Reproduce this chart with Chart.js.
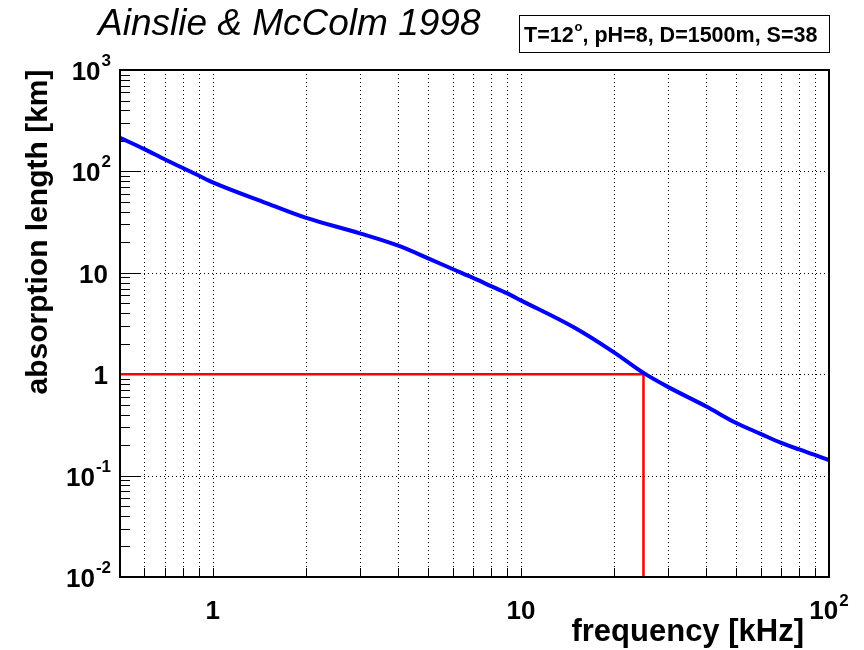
<!DOCTYPE html>
<html><head><meta charset="utf-8">
<script src="https://cdn.jsdelivr.net/npm/chart.js@4.4.1/dist/chart.umd.min.js"></script>
<style>html,body{margin:0;padding:0;background:#fff;}#wrap{width:864px;height:650px;position:relative;}</style>
</head><body><div id="wrap"><canvas id="c" width="864" height="650"></canvas></div>
<script>
// ---- data ----
const freqKHz = [0.5,0.6,0.7,0.8,0.9,1,1.5,2,3,4,5,6,7,8,9,10,15,20,25,30,40,50,60,70,80,90,100];
const absorptionKm = [215,166,131,108,91,78,48.5,35,24.5,18.5,13.9,10.9,8.9,7.4,6.3,5.35,2.85,1.65,1.03,0.75,0.48,0.33,0.258,0.21,0.181,0.16,0.142];
const refFreq = [0.5,25,25];
const refLen = [1,1,0.01];
const xGridValues = [0.6,0.7,0.8,0.9,1,2,3,4,5,6,7,8,9,10,20,30,40,50,60,70,80,90];
const yGridValues = [100,10,1,0.1];
const yMinorValues = [0.02,0.03,0.04,0.05,0.06,0.07,0.08,0.09,0.2,0.3,0.4,0.5,0.6,0.7,0.8,0.9,2,3,4,5,6,7,8,9,20,30,40,50,60,70,80,90,200,300,400,500,600,700,800,900];
const xLabelValues = [1,10,100];
const xLabelBases = ['1','10','10'];
const xLabelExps = ['','','2'];
const yLabelValues = [1000,100,10,1,0.1,0.01];
const yLabelBases = ['10','10','10','1','10','10'];
const yLabelExps = ['3','2','','','-1','-2'];
const titleText = 'Ainslie & McColm 1998';
const boxText = ['T=12','o',', pH=8, D=1500m, S=38'];
const xTitle = 'frequency [kHz]';
const yTitle = 'absorption length [km]';

const FONT = '"Liberation Sans", Arial, Helvetica, sans-serif';

const deco = {
  id: 'deco',
  beforeDatasetsDraw(chart) {
    const {ctx, chartArea: a, scales: {x, y}} = chart;
    ctx.save();
    ctx.strokeStyle = '#000';
    ctx.lineWidth = 1;
    ctx.setLineDash([1,3]);
    xGridValues.forEach(v => {
      const px = Math.round(x.getPixelForValue(v)) + 0.5;
      ctx.beginPath(); ctx.moveTo(px, a.top); ctx.lineTo(px, a.bottom); ctx.stroke();
    });
    yGridValues.forEach(v => {
      const py = Math.round(y.getPixelForValue(v)) + 0.5;
      ctx.beginPath(); ctx.moveTo(a.left, py); ctx.lineTo(a.right, py); ctx.stroke();
    });
    ctx.setLineDash([]);
    xGridValues.forEach(v => {
      const px = Math.round(x.getPixelForValue(v)) + 0.5;
      ctx.beginPath(); ctx.moveTo(px, a.bottom); ctx.lineTo(px, a.bottom - 9); ctx.stroke();
    });
    yGridValues.forEach(v => {
      const py = Math.round(y.getPixelForValue(v)) + 0.5;
      ctx.beginPath(); ctx.moveTo(a.left, py); ctx.lineTo(a.left + 20, py); ctx.stroke();
    });
    yMinorValues.forEach(v => {
      const py = Math.round(y.getPixelForValue(v)) + 0.5;
      ctx.beginPath(); ctx.moveTo(a.left, py); ctx.lineTo(a.left + 10, py); ctx.stroke();
    });
    ctx.restore();
  },
  afterDatasetsDraw(chart) {
    const {ctx, chartArea: a, scales: {x, y}} = chart;
    ctx.save();
    ctx.strokeStyle = '#000';
    ctx.lineWidth = 2;
    ctx.strokeRect(a.left, a.top, a.right - a.left, a.bottom - a.top);
    ctx.fillStyle = '#000';
    ctx.textBaseline = 'alphabetic';
    ctx.textAlign = 'left';
    // x labels: whole label (base + exponent) centred on the tick
    xLabelValues.forEach((v, i) => {
      const px = x.getPixelForValue(v);
      ctx.font = 'bold 26px ' + FONT;
      const w = ctx.measureText(xLabelBases[i]).width;
      let ew = 0;
      if (xLabelExps[i]) {
        ctx.font = 'bold 17px ' + FONT;
        ew = ctx.measureText(xLabelExps[i]).width + 1;
      }
      const x0 = px - (w + ew) / 2;
      ctx.font = 'bold 26px ' + FONT;
      ctx.fillText(xLabelBases[i], x0, a.bottom + 42);
      if (xLabelExps[i]) {
        ctx.font = 'bold 17px ' + FONT;
        ctx.fillText(xLabelExps[i], x0 + w + 1, a.bottom + 29);
      }
    });
    // y labels
    ctx.textAlign = 'right';
    yLabelValues.forEach((v, i) => {
      const py = y.getPixelForValue(v);
      let right;
      if (yLabelExps[i]) {
        right = 111;
        ctx.font = 'bold 17px ' + FONT;
        const ew = ctx.measureText(yLabelExps[i]).width;
        ctx.fillText(yLabelExps[i], right, py - 4);
        right -= ew + 1;
      } else {
        right = 108;
      }
      ctx.font = 'bold 26px ' + FONT;
      ctx.fillText(yLabelBases[i], right, py + 10);
    });
    // axis titles
    ctx.font = 'bold 31px ' + FONT;
    ctx.textAlign = 'right';
    ctx.fillText(xTitle, 804, 641);
    ctx.font = 'bold 30px ' + FONT;
    ctx.save();
    ctx.translate(47, 232);
    ctx.rotate(-Math.PI / 2);
    ctx.textAlign = 'center';
    ctx.fillText(yTitle, 0, 0);
    ctx.restore();
    // title
    ctx.font = 'italic 37px ' + FONT;
    ctx.textAlign = 'left';
    ctx.fillText(titleText, 98, 35);
    // parameter box
    ctx.lineWidth = 1;
    ctx.strokeRect(519.5, 15.5, 310, 37);
    ctx.font = 'bold 21.5px ' + FONT;
    let tx = 524;
    ctx.fillText(boxText[0], tx, 42); tx += ctx.measureText(boxText[0]).width + 1;
    ctx.font = 'bold 13px ' + FONT;
    ctx.fillText(boxText[1], tx, 31); tx += ctx.measureText(boxText[1]).width;
    ctx.font = 'bold 21.5px ' + FONT;
    ctx.fillText(boxText[2], tx, 42);
    ctx.restore();
  }
};

new Chart(document.getElementById('c'), {
  type: 'line',
  data: {
    datasets: [
      {
        data: freqKHz.map((f, i) => ({x: f, y: absorptionKm[i]})),
        borderColor: '#0000ff', borderWidth: 4, pointRadius: 0,
        cubicInterpolationMode: 'monotone', fill: false
      },
      {
        data: refFreq.map((f, i) => ({x: f, y: refLen[i]})),
        borderColor: '#ff0000', borderWidth: 2.5, pointRadius: 0, tension: 0, fill: false
      }
    ]
  },
  options: {
    responsive: false, animation: false,
    layout: {padding: {top: 70, right: 35, left: 0, bottom: 0}},
    plugins: {legend: {display: false}, tooltip: {enabled: false}},
    scales: {
      x: {
        type: 'logarithmic', min: 0.5, max: 100,
        ticks: {display: false}, grid: {display: false}, border: {display: false},
        afterFit(s) { s.height = 73; }
      },
      y: {
        type: 'logarithmic', min: 0.01, max: 1000,
        ticks: {display: false}, grid: {display: false}, border: {display: false},
        afterFit(s) { s.width = 120; }
      }
    }
  },
  plugins: [deco]
});
</script>
</body></html>
